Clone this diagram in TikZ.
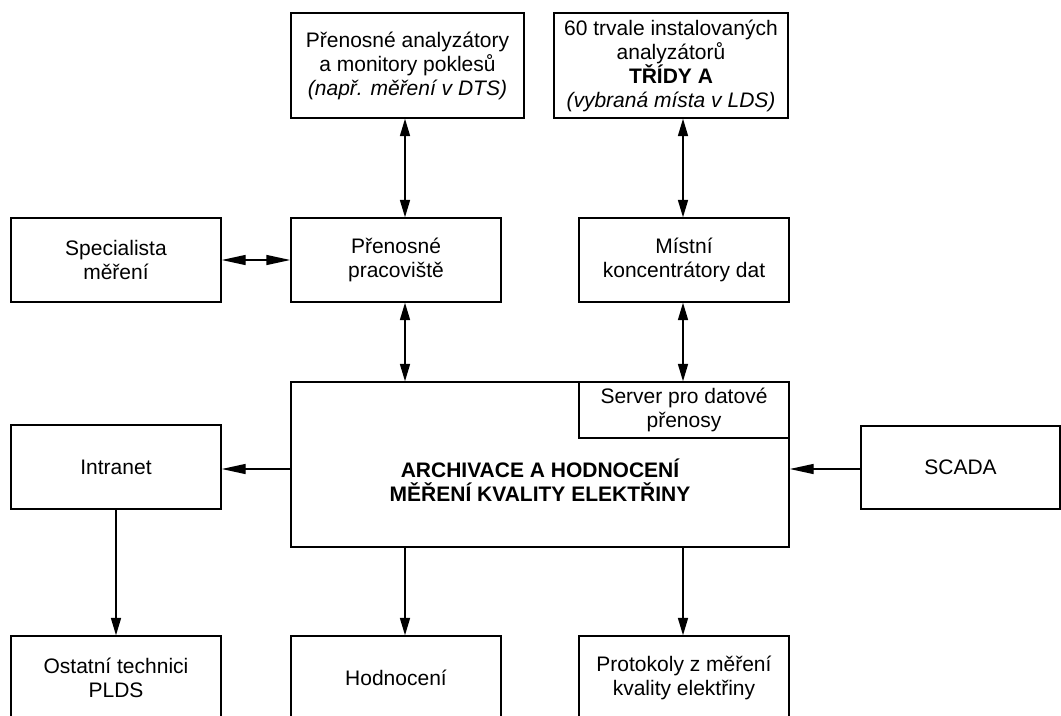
\documentclass[tikz,border=0pt]{standalone}
\usepackage{fontspec}
\setmainfont{Liberation Sans}
\usetikzlibrary{positioning,arrows.meta}

\tikzset{
  box/.style={draw, line width=1.1pt, inner sep=0pt, align=center,
    font=\fontsize{15.75}{18}\selectfont},
  cell/.style={box, minimum width=157.5pt, minimum height=63pt},
  vtip/.tip={Triangle[length=13pt,width=7.5pt]},
  htip/.tip={Triangle[length=18pt,width=7.5pt]},
  link/.style={line width=1.1pt}
}

\begin{document}
\begin{tikzpicture}[x=0.75pt,y=-0.75pt]
  \clip (0,0) rectangle (1061,715);

  % Analyzers
  \node[box, minimum width=174.75pt, minimum height=78.75pt] (analyz) at (407.5,65.5)
    {Přenosné analyzátory\\a monitory poklesů\\\textit{(např. měření v DTS)}};
  \node[box, minimum width=175.5pt, minimum height=78.75pt] (trvale) at (671,65.5)
    {60 trvale instalovaných\\analyzátorů\\\textbf{TŘÍDY A}\\\textit{(vybraná místa v LDS)}};

  % Middle row
  \node[cell] (spec) at (116,260) {Specialista\\měření};
  \node[cell] (prac) at (396,260) {Přenosné\\pracoviště};
  \node[cell] (mistni) at (684,260) {Místní\\koncentrátory dat};

  % Archive
  \node[box, minimum width=373.5pt, minimum height=123.75pt] (archiv) at (540,464.5) {};
  \node[box, font=\fontsize{15.75}{18}\selectfont\bfseries] (archivtext) at (540,480)
    [draw=none] {ARCHIVACE A HODNOCENÍ\\MĚŘENÍ KVALITY ELEKTŘINY};
  \node[box, minimum width=157.5pt, minimum height=42pt] (server) at (684,410)
    {Server pro datové\\přenosy};

  % Side boxes
  \node[cell] (intranet) at (116,467) {Intranet};
  \node[box, minimum width=149.25pt, minimum height=62.25pt] (scada) at (960.5,467.5) {SCADA};

  % Outputs
  \node[cell] (ostatni) at (116,678) {Ostatní technici\\PLDS};
  \node[cell] (hodnoc) at (396,678) {Hodnocení};
  \node[cell] (protok) at (684,678) {Protokoly z měření\\kvality elektřiny};

  % Links
  \coordinate (axL) at (405,0);
  \coordinate (axR) at (683,0);
  \coordinate (rowM) at (0,469);
  \draw[link, vtip-vtip] (analyz.south -| axL) -- (prac.north -| axL);
  \draw[link, vtip-vtip] (prac.south -| axL) -- (archiv.north -| axL);
  \draw[link, vtip-vtip] (trvale.south -| axR) -- (mistni.north -| axR);
  \draw[link, vtip-vtip] (mistni.south -| axR) -- (server.north -| axR);
  \draw[link, htip-htip] (spec.east) -- (prac.west);
  \draw[link, -htip] (archiv.west |- rowM) -- (intranet.east |- rowM);
  \draw[link, -htip] (scada.west |- rowM) -- (archiv.east |- rowM);
  \draw[link, -vtip] (intranet) -- (ostatni);
  \draw[link, -vtip] (archiv.south -| axL) -- (hodnoc.north -| axL);
  \draw[link, -vtip] (archiv.south -| axR) -- (protok.north -| axR);
\end{tikzpicture}
\end{document}
